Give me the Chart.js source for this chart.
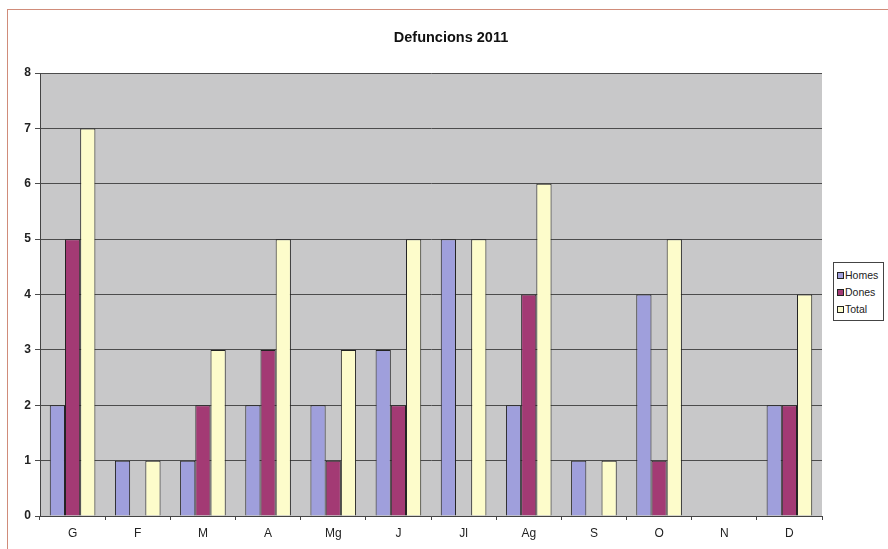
<!DOCTYPE html>
<html lang="ca">
<head>
    <meta charset="UTF-8">
    <title>Defuncions 2011</title>
    <script src="https://cdn.jsdelivr.net/npm/chart.js"></script>
    <style>
        body {
            margin: 0;
            background-color: #ffffff;
            font-family: "Liberation Sans", Arial, sans-serif;
        }
        .wrap {
            position: relative;
            width: 888px;
            height: 549px;
            overflow: hidden;
        }
        .frame {
            position: absolute;
            left: 7px;
            top: 9px;
            width: 900px;
            height: 600px;
            border-left: 1px solid #d08c7a;
            border-top: 1px solid #d08c7a;
        }
        canvas {
            position: absolute;
            left: 0;
            top: 0;
        }
        .legend {
            position: absolute;
            left: 833px;
            top: 262px;
            width: 51px;
            height: 59px;
            border: 1px solid #444;
            background: #fff;
            font-size: 10.5px;
            color: #222;
            padding-top: 4px;
            box-sizing: border-box;
        }
        .legend div {
            height: 17px;
            line-height: 17px;
            padding-left: 3px;
            white-space: nowrap;
        }
        .legend span {
            display: inline-block;
            width: 5px;
            height: 5px;
            border: 1px solid #222;
            margin-right: 1px;
            vertical-align: middle;
            position: relative;
            top: -1px;
        }
    </style>
</head>
<body>
    <div class="wrap">
        <div class="frame"></div>
        <canvas id="chart" width="888" height="549"></canvas>
        <div class="legend" id="legend"></div>
    </div>

    <script>
        const months = ['G', 'F', 'M', 'A', 'Mg', 'J', 'Jl', 'Ag', 'S', 'O', 'N', 'D'];
        const homes = [2, 1, 1, 2, 2, 3, 5, 2, 1, 4, 0, 2];
        const dones = [5, 0, 2, 3, 1, 2, 0, 4, 0, 1, 0, 2];
        const total = [7, 1, 3, 5, 3, 5, 5, 6, 1, 5, 0, 4];
        const yTicks = [0, 1, 2, 3, 4, 5, 6, 7, 8];
        const chartTitle = 'Defuncions 2011';

        const colors = {
            homes: '#9f9fdc',
            dones: '#a33a74',
            total: '#fdfccb'
        };

        // grey plot area behind the bars, title drawn a bit right of centre like the original
        const plotBg = {
            id: 'plotBg',
            beforeDraw(chart) {
                const a = chart.chartArea;
                const ctx = chart.ctx;
                ctx.save();
                ctx.fillStyle = '#c8c8c9';
                ctx.fillRect(a.left, a.top, a.right - a.left, a.bottom - a.top);
                ctx.restore();
            },
            afterDraw(chart) {
                const ctx = chart.ctx;
                ctx.save();
                ctx.fillStyle = '#111';
                ctx.font = 'bold 14.5px "Liberation Sans", Arial, sans-serif';
                ctx.textAlign = 'center';
                ctx.textBaseline = 'middle';
                ctx.fillText(chartTitle, 451, 38);
                ctx.restore();
            }
        };

        new Chart(document.getElementById('chart'), {
            type: 'bar',
            data: {
                labels: months,
                datasets: [
                    { label: 'Homes', data: homes, backgroundColor: colors.homes },
                    { label: 'Dones', data: dones, backgroundColor: colors.dones },
                    { label: 'Total', data: total, backgroundColor: colors.total }
                ]
            },
            options: {
                responsive: false,
                animation: false,
                layout: {
                    padding: { left: 8, right: 66, top: 73, bottom: 3 }
                },
                datasets: {
                    bar: {
                        borderColor: '#222',
                        borderWidth: 1,
                        barPercentage: 1,
                        categoryPercentage: 0.7
                    }
                },
                scales: {
                    x: {
                        offset: true,
                        afterFit(scale) { scale.height = 30; },
                        grid: {
                            offset: true,
                            drawOnChartArea: false,
                            color: '#444',
                            tickLength: 4
                        },
                        border: { color: '#444' },
                        ticks: {
                            color: '#222',
                            font: { size: 12, family: 'Liberation Sans' },
                            padding: 6
                        }
                    },
                    y: {
                        min: 0,
                        max: 8,
                        afterFit(scale) { scale.width = 32; },
                        afterBuildTicks(scale) {
                            scale.ticks = yTicks.map(v => ({ value: v }));
                        },
                        grid: {
                            color: '#4c4c4c',
                            tickLength: 5
                        },
                        border: { color: '#444' },
                        ticks: {
                            color: '#222',
                            font: { size: 12, weight: 'bold', family: 'Liberation Sans' },
                            padding: 4
                        }
                    }
                },
                plugins: {
                    legend: { display: false },
                    tooltip: { enabled: false },
                    title: { display: false }
                }
            },
            plugins: [plotBg]
        });

        const legend = document.getElementById('legend');
        [['Homes', colors.homes], ['Dones', colors.dones], ['Total', colors.total]].forEach(([name, c]) => {
            const row = document.createElement('div');
            row.innerHTML = '<span style="background:' + c + '"></span>' + name;
            legend.appendChild(row);
        });
    </script>
</body>
</html>
